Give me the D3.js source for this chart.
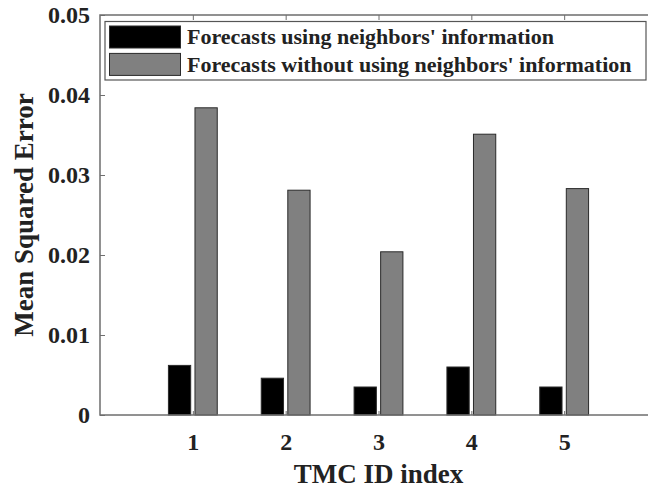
<!DOCTYPE html>
<html>
<head>
<meta charset="utf-8">
<script src="https://cdn.jsdelivr.net/npm/d3@7"></script>
<style>
  body { margin: 0; background: #fff; }
  svg text { font-family: "Liberation Serif", "Times New Roman", serif; font-weight: bold; fill: #222; }
</style>
</head>
<body>
<div id="chart"></div>
<script>
// values
var categories = [1, 2, 3, 4, 5],
  seriesNames = ["Forecasts using neighbors' information",
    "Forecasts without using neighbors' information"],
  withNeighbors = [0.0062, 0.0046, 0.0035, 0.0060, 0.0035],
  withoutNeighbors = [0.0384, 0.0281, 0.0204, 0.0351, 0.0283],
  yTicks = [0, 0.01, 0.02, 0.03, 0.04, 0.05],
  colors = ['#000000', '#808080'];

var width = 648,
  height = 491,
  plotLeft = 100, plotRight = 657, plotTop = 15, plotBottom = 415;

var svg = d3.select('#chart').append('svg')
  .attr('width', width)
  .attr('height', height);

var x = d3.scaleLinear().domain([0, 6]).range([plotLeft, plotRight]),
  y = d3.scaleLinear().domain([0, 0.05]).range([plotBottom, plotTop]),
  sub = d3.scaleBand().domain([0, 1]).range([-0.263, 0.263]).paddingInner(0.161);

var rows = categories.map(function(c, i) {
  return [withNeighbors[i], withoutNeighbors[i]];
});

// bars
var groups = svg.append('g')
  .selectAll('g')
  .data(rows)
  .enter()
  .append('g');

groups.selectAll('rect')
  .data(function(d, i) {
    return d.map(function(v, k) { return {c: categories[i], k: k, v: v}; });
  })
  .enter()
  .append('rect')
  .attr('x', function(d) { return x(d.c + sub(d.k)); })
  .attr('width', function(d) { return x(sub.bandwidth()) - x(0); })
  .attr('y', function(d) { return y(d.v); })
  .attr('height', function(d) { return y(0) - y(d.v); })
  .style('fill', function(d) { return colors[d.k]; })
  .style('stroke', '#2a2a2a')
  .style('stroke-width', 1);

// axes, ticks point inward
var axisColor = '#6e6e6e';

var gx = svg.append('g')
  .attr('transform', 'translate(0,' + plotBottom + ')')
  .call(d3.axisBottom(x).tickValues(categories).tickSize(-4).tickPadding(18).tickFormat(d3.format('d')));

var gTop = svg.append('g')
  .attr('transform', 'translate(0,' + plotTop + ')')
  .call(d3.axisTop(x).tickValues(categories).tickSize(-5).tickFormat(''));

var gy = svg.append('g')
  .attr('transform', 'translate(' + plotLeft + ',0)')
  .call(d3.axisLeft(y).tickValues(yTicks).tickSize(-5).tickPadding(10)
    .tickFormat(function(d) { return d === 0 ? '0' : d3.format('.2f')(d); }));

[gx, gTop, gy].forEach(function(g) {
  g.select('.domain').remove();
  g.selectAll('line').style('stroke', axisColor).style('stroke-width', 1);
  g.selectAll('text').style('font-size', '24px').style('fill', '#222');
});

// frame
svg.append('rect')
  .attr('x', plotLeft)
  .attr('y', plotTop)
  .attr('width', plotRight - plotLeft)
  .attr('height', plotBottom - plotTop)
  .style('fill', 'none')
  .style('stroke', axisColor)
  .style('stroke-width', 1.5);

// axis titles
svg.append('text')
  .attr('x', (plotLeft + plotRight) / 2)
  .attr('y', 483)
  .attr('text-anchor', 'middle')
  .style('font-size', '27px')
  .text('TMC ID index');

svg.append('text')
  .attr('transform', 'translate(33,' + (plotTop + plotBottom) / 2 + ') rotate(-90)')
  .attr('text-anchor', 'middle')
  .style('font-size', '27px')
  .text('Mean Squared Error');

// legend
var legend = svg.append('g');

legend.append('rect')
  .attr('x', 105)
  .attr('y', 21.5)
  .attr('width', 541)
  .attr('height', 58.5)
  .style('fill', '#fff')
  .style('stroke', '#555')
  .style('stroke-width', 1.2);

var items = legend.selectAll('g.item')
  .data(seriesNames)
  .enter()
  .append('g')
  .attr('class', 'item')
  .attr('transform', function(d, i) { return 'translate(0,' + (i * 27.4) + ')'; });

items.append('rect')
  .attr('x', 109.5)
  .attr('y', 26)
  .attr('width', 71)
  .attr('height', 22)
  .style('fill', function(d, i) { return colors[i]; })
  .style('stroke', '#2a2a2a')
  .style('stroke-width', 1);

items.append('text')
  .attr('x', 187)
  .attr('y', 44.3)
  .style('font-size', '22px')
  .text(function(d) { return d; });
</script>
</body>
</html>
